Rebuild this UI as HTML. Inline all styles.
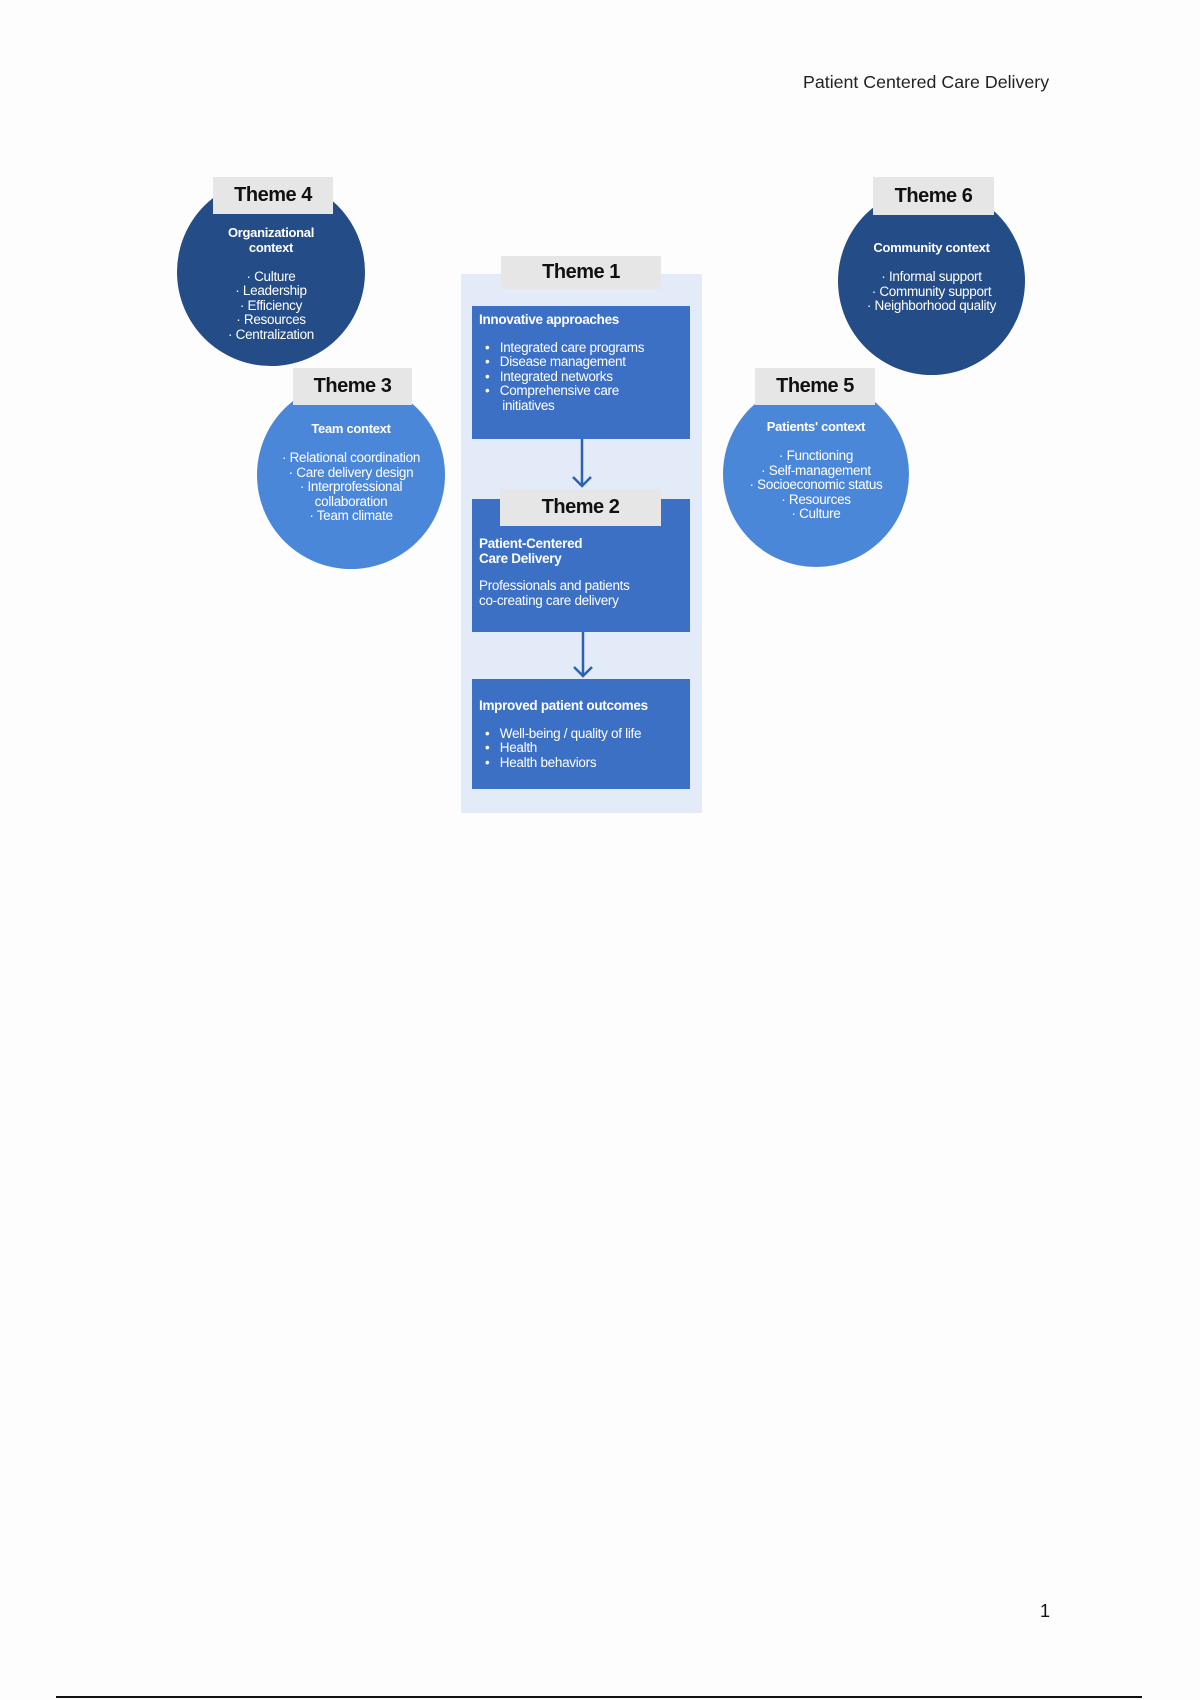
<!DOCTYPE html>
<html><head><meta charset="utf-8"><style>
body{margin:0;width:1200px;height:1700px;background:#fdfdfd;position:relative;overflow:hidden;font-family:"Liberation Sans",sans-serif}
.a{position:absolute}
.c{position:absolute;border-radius:50%;color:#fff;text-align:center;font-size:13.5px;line-height:14.5px;letter-spacing:-0.3px}
.dk{background:#244c87}.lt{background:#4b87d9}
.c b{display:block;font-size:13px}
.lab{position:absolute;background:#e6e6e6;color:#111;font-weight:bold;font-size:20px;text-align:center;letter-spacing:-0.5px}
.bx{position:absolute;background:#3b70c5;color:#fff;font-size:13.5px;line-height:14.5px;letter-spacing:-0.3px}
.bx b{display:block}
</style></head><body>
<div class="a" style="left:803px;top:72px;font-size:17.8px;color:#222">Patient Centered Care Delivery</div>

<div class="a" style="left:461px;top:274px;width:241px;height:539px;background:#e3ebf9"></div>

<div class="c dk" style="left:177px;top:178px;width:188px;height:188px"><div style="margin-top:48px"><b>Organizational<br>context</b><br>· Culture<br>· Leadership<br>· Efficiency<br>· Resources<br>· Centralization</div></div>
<div class="lab" style="left:213px;top:177px;width:120px;height:37px;line-height:37px">Theme 4</div>

<div class="c dk" style="left:838px;top:187px;width:187px;height:188px"><div style="margin-top:54px"><b>Community context</b><br>· Informal support<br>· Community support<br>· Neighborhood quality</div></div>
<div class="lab" style="left:873px;top:177px;width:121px;height:38px;line-height:38px">Theme 6</div>

<div class="c lt" style="left:257px;top:381px;width:188px;height:188px"><div style="margin-top:41px"><b>Team context</b><br>· Relational coordination<br>· Care delivery design<br>· Interprofessional<br>collaboration<br>· Team climate</div></div>
<div class="lab" style="left:293px;top:368px;width:119px;height:37px;line-height:37px">Theme 3</div>

<div class="c lt" style="left:723px;top:381px;width:186px;height:186px"><div style="margin-top:39px"><b>Patients' context</b><br>· Functioning<br>· Self-management<br>· Socioeconomic status<br>· Resources<br>· Culture</div></div>
<div class="lab" style="left:755px;top:368px;width:120px;height:37px;line-height:37px">Theme 5</div>

<div class="bx" style="left:472px;top:306px;width:218px;height:133px"><div style="padding:7px 7px"><b>Innovative approaches</b><div style="margin-top:13px;padding-left:6px">•&nbsp;&nbsp;&nbsp;Integrated care programs<br>•&nbsp;&nbsp;&nbsp;Disease management<br>•&nbsp;&nbsp;&nbsp;Integrated networks<br>•&nbsp;&nbsp;&nbsp;Comprehensive care<br>&nbsp;&nbsp;&nbsp;&nbsp;&nbsp;initiatives</div></div></div>
<div class="lab" style="left:501px;top:256px;width:160px;height:33px;line-height:33px">Theme 1</div>

<div class="bx" style="left:472px;top:499px;width:218px;height:133px"><div style="padding:38px 7px 0"><b>Patient-Centered<br>Care Delivery</b><div style="margin-top:13px">Professionals and patients<br>co-creating care delivery</div></div></div>
<div class="lab" style="left:500px;top:489px;width:161px;height:37px;line-height:37px">Theme 2</div>

<div class="bx" style="left:472px;top:679px;width:218px;height:110px"><div style="padding:20px 7px 0"><b>Improved patient outcomes</b><div style="margin-top:13px;padding-left:6px">•&nbsp;&nbsp;&nbsp;Well-being / quality of life<br>•&nbsp;&nbsp;&nbsp;Health<br>•&nbsp;&nbsp;&nbsp;Health behaviors</div></div></div>

<svg class="a" style="left:0;top:0" width="1200" height="1700">
<g stroke="#2d62b3" stroke-width="2.5" fill="none">
<path d="M582 439V486M573 477L582 486L591 477"/>
<path d="M583 632V676M574 667L583 676L592 667"/>
</g>
<line x1="56" y1="1697" x2="1142" y2="1697" stroke="#111" stroke-width="2"/>
</svg>
<div class="a" style="left:1040px;top:1601px;font-size:18px;color:#111">1</div>
</body></html>
